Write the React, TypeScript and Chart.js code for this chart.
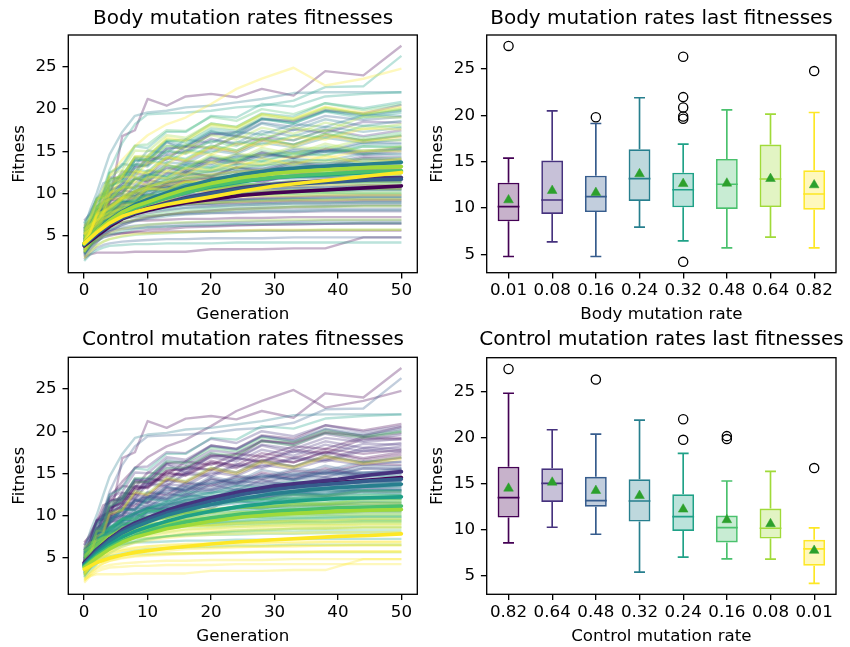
import React, { useEffect, useRef } from "react";
import { Chart, registerables } from "chart.js";

Chart.register(...registerables);

// ---------------- data ----------------
const VIRIDIS = ["#440154", "#46327e", "#365c8d", "#277f8e", "#1fa187", "#4ac16d", "#a0da39", "#fde725"];
const BODY_RATES = ["0.01", "0.08", "0.16", "0.24", "0.32", "0.48", "0.64", "0.82"];
const CTRL_RATES = ["0.82", "0.64", "0.48", "0.32", "0.24", "0.16", "0.08", "0.01"];
const GEN_TICKS = [0, 10, 20, 30, 40, 50];
const FIT_TICKS = [5, 10, 15, 20, 25];

// sampled generations of each run
const RUN_GENS = [0, 1, 2, 3, 4, 6, 8, 10, 13, 16, 20, 24, 28, 33, 38, 44, 50];
// body-rate index and control-rate index of each run
const RUN_BODY = [
  0, 0, 0, 0, 0, 0, 0, 0, 0, 0,
  1, 1, 1, 1, 1, 1, 1, 1, 1, 1,
  2, 2, 2, 2, 2, 2, 2, 2, 2, 2,
  3, 3, 3, 3, 3, 3, 3, 3, 3, 3,
  4, 4, 4, 4, 4, 4, 4, 4, 4, 4, 4, 4,
  5, 5, 5, 5, 5, 5, 5, 5, 5, 5,
  6, 6, 6, 6, 6, 6, 6, 6, 6, 6,
  7, 7, 7, 7, 7, 7, 7, 7, 7, 7,
  0, 0, 0, 0, 0, 1, 1, 1, 1, 1, 2, 2, 2, 2, 2, 3, 3, 3, 3, 3,
  4, 4, 4, 4, 4, 5, 5, 5, 5, 5, 6, 6, 6, 6, 6, 7, 7, 7, 7, 7,
];
const RUN_CTRL = [
  0, 1, 2, 3, 4, 5, 6, 7, 1, 7,
  0, 1, 2, 3, 4, 5, 6, 7, 0, 3,
  0, 1, 2, 3, 4, 5, 6, 7, 2, 5,
  0, 1, 2, 3, 4, 5, 6, 7, 1, 6,
  2, 4, 0, 5, 1, 3, 6, 7, 4, 5, 3, 6,
  0, 1, 2, 3, 4, 5, 6, 7, 0, 7,
  0, 1, 2, 3, 4, 5, 6, 7, 1, 5,
  0, 1, 2, 3, 4, 5, 6, 7, 7, 3,
  2, 0, 4, 6, 3, 1, 2, 5, 6, 4, 0, 3, 6, 7, 4, 0, 2, 4, 7, 5,
  1, 2, 4, 6, 7, 1, 2, 3, 5, 6, 0, 2, 3, 4, 6, 1, 2, 4, 5, 6,
];
const RUN_FITNESS = [
  // body 0.01
  [3.5, 4.5, 5.5, 7.0, 9.0, 16.8, 17.5, 21.2, 20.4, 21.5, 21.8, 21.4, 22.4, 21.6, 24.5, 24.0, 27.5],
  [4.2, 5.0, 6.4, 6.8, 8.1, 8.4, 10.2, 9.6, 11.3, 11.5, 10.8, 12.4, 12.0, 12.9, 12.3, 13.2, 13.0],
  [5.6, 6.2, 7.3, 7.4, 8.6, 9.1, 8.8, 10.6, 10.9, 10.2, 11.7, 11.8, 11.3, 12.4, 12.1, 12.8, 12.5],
  [3.0, 3.8, 4.6, 5.4, 6.0, 7.2, 7.9, 8.3, 8.9, 9.2, 9.6, 9.9, 10.1, 10.3, 10.4, 10.6, 10.6],
  [4.8, 5.4, 5.9, 6.6, 7.1, 7.6, 8.0, 8.4, 8.6, 9.0, 9.1, 9.3, 9.5, 9.6, 9.7, 9.8, 9.8],
  [2.6, 3.4, 4.2, 5.0, 5.5, 6.3, 6.8, 7.1, 7.5, 7.8, 8.0, 8.2, 8.3, 8.4, 8.5, 8.6, 8.6],
  [6.2, 6.8, 7.0, 7.4, 7.5, 7.9, 8.1, 8.3, 8.5, 8.7, 8.8, 8.9, 9.0, 9.1, 9.1, 9.2, 9.2],
  [2.4, 2.8, 3.0, 3.0, 3.0, 3.0, 3.1, 3.1, 3.1, 3.1, 3.4, 3.4, 3.4, 3.5, 3.5, 4.8, 4.8],
  [3.8, 4.9, 6.8, 7.6, 9.2, 10.0, 11.8, 11.4, 13.1, 12.6, 14.2, 13.7, 14.9, 14.2, 15.3, 14.9, 15.4],
  [3.2, 3.9, 4.4, 4.8, 5.0, 5.3, 5.5, 5.7, 5.8, 6.0, 6.1, 6.2, 6.3, 6.4, 6.4, 6.5, 6.5],
  // body 0.08
  [4.5, 5.8, 7.9, 8.3, 10.4, 11.0, 13.1, 13.4, 15.3, 15.5, 17.0, 17.3, 18.8, 18.6, 19.9, 19.5, 20.5],
  [5.2, 6.3, 8.1, 8.2, 10.0, 10.5, 12.4, 12.1, 14.2, 13.8, 15.4, 14.9, 16.3, 15.8, 16.9, 16.3, 16.8],
  [3.9, 5.0, 6.6, 7.2, 8.5, 9.3, 10.9, 10.8, 12.4, 12.4, 13.9, 13.5, 14.6, 14.3, 15.2, 14.7, 15.1],
  [4.6, 5.4, 6.0, 6.9, 7.4, 8.2, 8.9, 9.3, 9.8, 10.2, 10.5, 10.8, 11.0, 11.1, 11.3, 11.4, 11.4],
  [2.9, 3.8, 4.9, 5.7, 6.4, 7.4, 8.0, 8.5, 9.0, 9.4, 9.7, 10.0, 10.1, 10.3, 10.4, 10.5, 10.5],
  [5.5, 6.0, 6.4, 6.9, 7.2, 7.7, 8.1, 8.4, 8.7, 8.9, 9.1, 9.2, 9.3, 9.3, 9.4, 9.4, 9.4],
  [3.6, 4.4, 5.2, 5.8, 6.3, 7.0, 7.4, 7.7, 8.0, 8.3, 8.5, 8.6, 8.7, 8.8, 8.8, 8.9, 8.9],
  [4.0, 4.6, 5.0, 5.3, 5.5, 5.8, 5.9, 6.0, 6.1, 6.2, 6.2, 6.3, 6.3, 6.3, 6.4, 6.4, 6.4],
  [6.8, 7.6, 9.4, 10.0, 11.9, 11.8, 14.0, 13.8, 14.6, 15.0, 16.5, 15.8, 16.6, 16.3, 17.6, 16.8, 17.5],
  [3.3, 4.6, 5.8, 6.7, 7.6, 8.8, 9.5, 10.2, 10.9, 11.5, 11.8, 12.1, 12.4, 12.6, 12.8, 12.9, 13.0],
  // body 0.16
  [4.0, 5.5, 7.4, 8.0, 10.1, 11.2, 13.1, 13.5, 15.3, 15.6, 17.2, 16.9, 18.9, 18.5, 19.8, 19.3, 19.8],
  [5.8, 7.0, 9.0, 9.6, 10.9, 11.8, 13.4, 13.7, 16.1, 15.0, 17.1, 16.8, 18.4, 17.9, 19.2, 18.7, 19.1],
  [3.4, 4.8, 6.0, 6.8, 7.6, 8.9, 9.7, 10.5, 11.1, 11.8, 12.2, 12.6, 12.8, 13.1, 13.3, 13.4, 13.5],
  [4.7, 5.6, 6.4, 7.1, 7.8, 8.7, 9.4, 9.9, 10.4, 10.9, 11.2, 11.4, 11.6, 11.8, 11.9, 12.0, 12.0],
  [2.7, 3.9, 5.0, 5.9, 6.6, 7.6, 8.3, 8.8, 9.3, 9.8, 10.1, 10.4, 10.6, 10.8, 10.9, 11.0, 11.0],
  [5.0, 5.7, 6.2, 6.7, 7.1, 7.7, 8.1, 8.4, 8.7, 9.0, 9.2, 9.3, 9.4, 9.5, 9.6, 9.6, 9.6],
  [3.7, 4.6, 5.4, 6.1, 6.7, 7.5, 8.1, 8.6, 9.0, 9.4, 9.7, 9.9, 10.1, 10.2, 10.3, 10.4, 10.4],
  [2.2, 3.0, 3.6, 3.9, 4.1, 4.3, 4.4, 4.5, 4.6, 4.6, 4.7, 4.7, 4.7, 4.8, 4.8, 4.8, 4.8],
  [4.4, 5.8, 7.7, 7.9, 9.8, 10.1, 11.7, 11.8, 13.4, 12.9, 14.3, 13.8, 14.8, 14.2, 15.0, 14.6, 14.8],
  [3.1, 4.0, 4.8, 5.4, 5.9, 6.5, 6.9, 7.2, 7.5, 7.7, 7.9, 8.0, 8.1, 8.1, 8.2, 8.2, 8.2],
  // body 0.24
  [4.9, 6.4, 8.5, 8.9, 11.0, 11.5, 13.4, 13.2, 15.0, 14.8, 16.3, 16.0, 17.4, 16.8, 17.9, 17.3, 17.8],
  [3.8, 5.2, 7.2, 7.7, 9.6, 10.1, 12.0, 12.0, 13.7, 13.5, 15.1, 14.7, 16.0, 15.5, 16.6, 16.0, 16.4],
  [5.5, 6.7, 7.8, 8.9, 9.6, 10.8, 11.7, 12.2, 12.9, 13.4, 13.9, 14.3, 14.6, 14.9, 15.0, 15.1, 15.2],
  [5.8, 8.2, 10.1, 12.4, 14.6, 17.3, 19.2, 19.6, 19.8, 20.2, 20.4, 20.8, 21.2, 21.9, 22.0, 22.0, 22.0],
  [4.2, 5.4, 6.6, 7.6, 8.4, 9.5, 10.3, 10.9, 11.6, 12.1, 12.5, 12.8, 13.0, 13.2, 13.3, 13.4, 13.5],
  [3.6, 4.8, 5.9, 6.8, 7.6, 8.6, 9.4, 9.9, 10.5, 11.0, 11.4, 11.7, 11.9, 12.1, 12.3, 12.4, 12.4],
  [5.1, 5.8, 6.5, 7.1, 7.6, 8.3, 8.8, 9.2, 9.6, 9.9, 10.2, 10.4, 10.5, 10.6, 10.7, 10.8, 10.8],
  [3.0, 3.9, 4.6, 5.2, 5.7, 6.3, 6.7, 7.0, 7.3, 7.5, 7.7, 7.8, 7.9, 7.9, 8.0, 8.0, 8.0],
  [4.6, 6.1, 8.4, 9.1, 11.3, 12.0, 14.3, 14.0, 16.1, 15.6, 17.4, 16.7, 18.3, 17.5, 18.8, 18.0, 18.6],
  [3.9, 5.0, 6.0, 6.8, 7.5, 8.4, 9.1, 9.6, 10.1, 10.5, 10.8, 11.0, 11.2, 11.4, 11.5, 11.6, 11.6],
  // body 0.32
  [4.5, 6.0, 8.2, 10.4, 12.8, 16.0, 18.2, 19.4, 19.5, 19.6, 19.8, 20.2, 20.4, 21.0, 22.6, 22.7, 26.3],
  [5.0, 6.6, 9.0, 9.8, 12.4, 13.2, 15.6, 15.4, 17.3, 17.3, 19.2, 19.0, 20.6, 20.3, 21.5, 21.8, 22.0],
  [3.9, 5.6, 7.9, 8.6, 10.8, 11.6, 13.9, 14.1, 16.2, 16.4, 18.3, 17.9, 19.5, 19.1, 20.7, 20.1, 20.85],
  [4.3, 5.9, 8.1, 8.6, 11.1, 11.8, 13.9, 14.0, 15.6, 15.7, 17.4, 17.1, 18.8, 18.3, 19.8, 19.2, 19.9],
  [6.4, 7.5, 9.4, 9.5, 11.6, 12.1, 14.2, 14.4, 16.3, 16.0, 17.7, 17.4, 18.9, 18.3, 19.7, 18.9, 19.6],
  [3.5, 4.8, 6.1, 7.1, 8.0, 9.2, 10.1, 10.8, 11.6, 12.2, 12.7, 13.0, 13.3, 13.5, 13.6, 13.7, 13.8],
  [4.4, 5.2, 5.9, 6.5, 7.0, 7.7, 8.2, 8.6, 9.0, 9.3, 9.6, 9.8, 9.9, 10.0, 10.1, 10.1, 10.1],
  [2.0, 2.8, 3.3, 3.6, 3.8, 3.9, 4.0, 4.0, 4.1, 4.1, 4.1, 4.2, 4.2, 4.2, 4.2, 4.2, 4.2],
  [5.3, 6.1, 7.0, 7.7, 8.3, 9.2, 9.9, 10.3, 10.8, 11.2, 11.5, 11.7, 11.8, 11.9, 12.0, 12.0, 12.0],
  [2.9, 3.7, 4.3, 4.8, 5.1, 5.5, 5.8, 6.0, 6.1, 6.2, 6.3, 6.4, 6.4, 6.5, 6.5, 6.5, 6.5],
  [3.7, 4.8, 5.9, 6.7, 7.4, 8.3, 9.0, 9.5, 10.0, 10.4, 10.7, 10.9, 11.0, 11.1, 11.2, 11.2, 11.2],
  [4.9, 6.2, 8.1, 8.2, 10.3, 10.7, 12.9, 12.6, 14.5, 14.1, 15.7, 15.1, 16.5, 15.8, 17.1, 16.3, 16.9],
  // body 0.48
  [4.1, 5.5, 7.4, 7.5, 9.5, 9.8, 11.8, 11.5, 13.3, 12.9, 14.4, 13.8, 15.1, 14.4, 15.6, 14.7, 15.3],
  [5.6, 7.2, 9.5, 10.2, 12.5, 13.4, 15.7, 15.8, 17.5, 17.4, 19.1, 18.6, 20.0, 19.4, 20.7, 19.9, 20.6],
  [3.6, 5.0, 6.3, 7.4, 8.3, 9.6, 10.5, 11.1, 11.9, 12.5, 13.0, 13.4, 13.7, 13.9, 14.0, 14.1, 14.2],
  [4.8, 5.9, 6.9, 7.8, 8.5, 9.5, 10.2, 10.7, 11.3, 11.8, 12.2, 12.5, 12.7, 12.8, 12.9, 13.0, 13.0],
  [3.1, 4.4, 5.6, 6.6, 7.4, 8.5, 9.3, 9.8, 10.4, 10.9, 11.3, 11.6, 11.8, 12.0, 12.1, 12.2, 12.2],
  [5.9, 6.5, 7.0, 7.4, 7.8, 8.3, 8.7, 8.9, 9.2, 9.4, 9.6, 9.7, 9.8, 9.8, 9.9, 9.9, 9.9],
  [3.3, 4.4, 5.5, 6.4, 7.1, 8.1, 8.8, 9.3, 9.8, 10.2, 10.6, 10.9, 11.0, 11.2, 11.3, 11.4, 11.4],
  [2.5, 3.3, 3.9, 4.3, 4.6, 4.9, 5.1, 5.2, 5.3, 5.4, 5.5, 5.5, 5.6, 5.6, 5.7, 5.7, 5.7],
  [4.7, 6.3, 8.4, 8.8, 10.9, 11.4, 13.5, 13.3, 15.1, 14.7, 16.2, 15.6, 17.0, 16.3, 17.5, 16.6, 17.2],
  [4.3, 4.9, 5.5, 6.0, 6.4, 6.9, 7.3, 7.5, 7.8, 8.0, 8.2, 8.3, 8.4, 8.5, 8.5, 8.6, 8.6],
  // body 0.64
  [3.9, 5.5, 7.5, 7.9, 10.0, 10.5, 12.6, 12.4, 14.3, 14.0, 15.6, 15.1, 16.5, 15.8, 17.1, 16.3, 16.9],
  [5.4, 7.1, 9.3, 9.7, 12.1, 12.8, 15.1, 15.0, 16.9, 16.6, 18.3, 17.9, 19.4, 18.8, 20.2, 19.4, 20.1],
  [4.6, 5.9, 7.7, 7.8, 9.7, 10.0, 11.9, 11.6, 13.4, 13.0, 14.6, 14.0, 15.4, 14.7, 15.9, 15.0, 15.6],
  [3.4, 4.8, 6.1, 7.2, 8.0, 9.3, 10.2, 10.8, 11.6, 12.2, 12.7, 13.1, 13.4, 13.7, 13.8, 13.9, 14.0],
  [5.1, 6.1, 7.1, 7.9, 8.6, 9.6, 10.3, 10.8, 11.3, 11.7, 12.0, 12.2, 12.4, 12.5, 12.5, 12.6, 12.6],
  [3.0, 4.1, 5.1, 5.9, 6.6, 7.5, 8.1, 8.5, 8.9, 9.3, 9.6, 9.8, 9.9, 10.0, 10.1, 10.1, 10.1],
  [4.2, 5.1, 6.0, 6.8, 7.4, 8.3, 8.9, 9.4, 9.9, 10.3, 10.6, 10.9, 11.0, 11.1, 11.2, 11.3, 11.3],
  [3.2, 3.9, 4.5, 5.0, 5.3, 5.8, 6.1, 6.3, 6.5, 6.6, 6.7, 6.8, 6.8, 6.9, 6.9, 6.9, 6.9],
  [6.1, 7.4, 9.4, 9.6, 11.7, 12.1, 14.2, 13.9, 15.7, 15.3, 16.9, 16.4, 17.8, 17.1, 18.4, 17.6, 18.2],
  [4.4, 6.0, 8.3, 8.9, 11.4, 12.2, 14.4, 14.5, 16.4, 16.2, 18.0, 17.6, 19.2, 18.7, 20.1, 19.4, 20.0],
  // body 0.82
  [5.2, 7.0, 8.9, 10.6, 12.1, 14.0, 15.6, 16.9, 18.2, 19.0, 20.6, 22.4, 23.6, 24.9, 22.8, 23.6, 24.8],
  [4.3, 5.6, 7.4, 7.4, 9.3, 9.5, 11.4, 11.0, 12.7, 12.2, 13.7, 13.0, 14.2, 13.4, 14.5, 13.6, 14.1],
  [3.7, 5.4, 7.8, 8.5, 11.0, 11.9, 14.4, 14.3, 16.6, 16.3, 18.2, 17.8, 19.4, 18.9, 20.3, 19.6, 20.3],
  [4.9, 5.9, 6.9, 7.7, 8.4, 9.3, 10.0, 10.5, 11.0, 11.4, 11.7, 11.9, 12.0, 12.1, 12.2, 12.2, 12.2],
  [3.1, 4.3, 5.4, 6.3, 7.0, 8.0, 8.7, 9.2, 9.7, 10.1, 10.4, 10.6, 10.8, 10.9, 11.0, 11.0, 11.0],
  [5.7, 6.3, 6.8, 7.3, 7.7, 8.2, 8.6, 8.8, 9.1, 9.3, 9.5, 9.6, 9.7, 9.7, 9.8, 9.8, 9.8],
  [3.5, 4.5, 5.4, 6.2, 6.8, 7.7, 8.3, 8.8, 9.2, 9.6, 9.9, 10.1, 10.3, 10.4, 10.5, 10.6, 10.6],
  [2.3, 3.1, 3.8, 4.3, 4.6, 5.0, 5.2, 5.3, 5.4, 5.5, 5.6, 5.6, 5.7, 5.7, 5.7, 5.7, 5.7],
  [4.0, 5.5, 7.5, 7.9, 10.1, 10.6, 12.7, 12.4, 14.3, 13.9, 15.5, 14.9, 16.3, 15.6, 16.9, 16.1, 16.7],
  [4.5, 5.6, 6.7, 7.6, 8.4, 9.5, 10.3, 10.8, 11.4, 11.9, 12.3, 12.6, 12.8, 12.9, 13.0, 13.0, 13.0],
  // additional runs, bodies 0.01 .. 0.24
  [4.6, 5.8, 6.9, 8.6, 8.9, 10.4, 10.1, 11.6, 11.2, 12.6, 12.0, 13.1, 12.6, 13.7, 13.2, 14.2, 14.0],
  [5.9, 6.6, 7.9, 8.1, 9.2, 9.4, 10.3, 10.9, 10.6, 11.5, 11.9, 11.6, 12.2, 12.5, 12.3, 12.9, 12.8],
  [3.4, 4.5, 5.6, 6.0, 6.3, 6.6, 6.8, 6.8, 6.9, 7.0, 7.0, 7.1, 7.1, 7.2, 7.2, 7.2, 7.2],
  [3.9, 4.4, 4.8, 5.1, 5.2, 5.3, 5.4, 5.4, 5.5, 5.5, 5.5, 5.6, 5.6, 5.6, 5.6, 5.6, 5.6],
  [4.1, 5.2, 6.1, 7.3, 7.6, 8.8, 8.9, 9.8, 9.7, 10.4, 10.3, 10.9, 10.8, 11.3, 11.2, 11.6, 11.5],
  [5.0, 6.6, 7.9, 9.9, 10.4, 12.6, 12.5, 14.3, 14.0, 15.6, 15.4, 16.8, 16.3, 17.6, 17.2, 18.5, 18.4],
  [4.3, 5.5, 6.6, 8.1, 8.4, 9.9, 9.8, 11.2, 11.0, 12.3, 12.1, 13.1, 12.9, 13.8, 13.5, 14.4, 14.3],
  [4.4, 5.3, 6.0, 6.4, 6.7, 7.0, 7.2, 7.3, 7.5, 7.6, 7.7, 7.7, 7.8, 7.8, 7.9, 7.9, 7.9],
  [2.8, 4.0, 5.3, 6.6, 7.0, 8.1, 8.3, 9.2, 9.1, 9.9, 9.8, 10.4, 10.3, 10.8, 10.7, 11.0, 10.9],
  [5.7, 6.5, 7.4, 8.4, 8.6, 9.6, 9.7, 10.5, 10.4, 11.1, 11.0, 11.6, 11.5, 12.0, 11.9, 12.5, 12.4],
  [4.9, 6.1, 7.5, 9.2, 9.5, 11.3, 11.1, 12.7, 12.4, 13.8, 13.5, 14.6, 14.3, 15.3, 15.0, 16.1, 16.0],
  [3.6, 4.9, 6.1, 7.6, 8.0, 9.5, 9.5, 10.9, 10.7, 11.9, 11.8, 12.7, 12.6, 13.4, 13.2, 14.0, 13.9],
  [5.3, 5.9, 6.5, 7.0, 7.3, 7.7, 8.0, 8.2, 8.4, 8.6, 8.7, 8.8, 8.9, 9.0, 9.0, 9.1, 9.1],
  [3.5, 4.2, 4.9, 5.4, 5.7, 6.0, 6.2, 6.3, 6.4, 6.5, 6.6, 6.6, 6.7, 6.7, 6.8, 6.8, 6.8],
  [4.2, 5.1, 6.0, 6.9, 7.2, 8.1, 8.3, 9.0, 9.1, 9.6, 9.7, 10.1, 10.2, 10.5, 10.5, 10.7, 10.7],
  [6.5, 7.9, 9.3, 11.2, 11.5, 13.5, 13.3, 15.1, 14.8, 16.4, 16.0, 17.3, 17.0, 18.2, 17.9, 19.3, 19.2],
  [4.0, 5.4, 6.8, 8.6, 9.0, 10.8, 10.7, 12.3, 12.1, 13.5, 13.3, 14.4, 14.2, 15.1, 14.9, 15.9, 15.8],
  [5.4, 6.5, 7.6, 9.0, 9.3, 10.7, 10.6, 11.9, 11.7, 12.8, 12.6, 13.5, 13.3, 14.1, 13.9, 14.7, 14.6],
  [2.9, 3.9, 4.9, 5.9, 6.3, 7.2, 7.5, 8.1, 8.3, 8.7, 8.8, 9.1, 9.2, 9.4, 9.4, 9.6, 9.6],
  [4.5, 5.5, 6.5, 7.6, 7.9, 9.0, 9.1, 9.9, 9.9, 10.6, 10.6, 11.1, 11.1, 11.5, 11.5, 11.9, 11.9],
  // additional runs, bodies 0.32 .. 0.82
  [4.8, 6.0, 7.3, 8.9, 9.3, 10.9, 10.8, 12.3, 12.0, 13.3, 13.1, 14.1, 13.9, 14.8, 14.6, 15.6, 15.5],
  [3.3, 4.6, 5.8, 7.2, 7.6, 9.0, 9.0, 10.3, 10.2, 11.3, 11.2, 12.0, 11.9, 12.6, 12.5, 13.3, 13.2],
  [5.6, 6.3, 7.0, 7.9, 8.1, 9.0, 9.1, 9.8, 9.8, 10.4, 10.4, 10.9, 10.9, 11.3, 11.3, 11.6, 11.6],
  [3.9, 4.9, 5.8, 6.8, 7.1, 8.0, 8.2, 8.9, 9.0, 9.5, 9.6, 10.0, 10.1, 10.4, 10.4, 10.6, 10.6],
  [4.6, 5.3, 5.9, 6.5, 6.8, 7.3, 7.6, 7.9, 8.1, 8.3, 8.4, 8.6, 8.7, 8.8, 8.8, 8.9, 8.9],
  [5.3, 6.7, 8.1, 10.0, 10.3, 12.3, 12.1, 13.9, 13.6, 15.1, 14.8, 16.1, 15.8, 16.9, 16.6, 18.0, 17.9],
  [4.4, 5.7, 7.0, 8.7, 9.1, 10.7, 10.6, 12.1, 11.9, 13.2, 13.0, 14.0, 13.8, 14.7, 14.5, 15.6, 15.5],
  [3.2, 4.3, 5.3, 6.4, 6.8, 7.7, 7.9, 8.6, 8.7, 9.3, 9.4, 9.8, 9.9, 10.2, 10.2, 10.4, 10.4],
  [4.9, 5.9, 6.9, 8.1, 8.4, 9.6, 9.6, 10.6, 10.5, 11.3, 11.3, 11.9, 11.9, 12.4, 12.3, 12.9, 12.8],
  [5.8, 6.3, 6.8, 7.3, 7.5, 7.9, 8.2, 8.4, 8.6, 8.8, 8.9, 9.1, 9.2, 9.3, 9.3, 9.4, 9.4],
  [4.7, 6.3, 7.9, 10.0, 10.4, 12.7, 12.5, 14.4, 14.1, 15.8, 15.4, 16.8, 16.4, 17.8, 17.4, 19.1, 19.0],
  [5.9, 7.0, 8.2, 9.7, 10.0, 11.5, 11.4, 12.8, 12.6, 13.9, 13.7, 14.7, 14.5, 15.5, 15.3, 16.4, 16.3],
  [3.8, 5.0, 6.2, 7.6, 7.9, 9.3, 9.3, 10.5, 10.4, 11.4, 11.3, 12.1, 12.0, 12.7, 12.6, 13.4, 13.3],
  [4.3, 5.3, 6.3, 7.4, 7.7, 8.8, 8.9, 9.8, 9.8, 10.5, 10.5, 11.1, 11.1, 11.5, 11.5, 11.9, 11.9],
  [3.1, 4.0, 4.8, 5.6, 5.9, 6.6, 6.9, 7.3, 7.5, 7.8, 7.9, 8.1, 8.2, 8.4, 8.4, 8.5, 8.5],
  [3.9, 5.6, 7.3, 9.4, 9.8, 12.0, 11.9, 13.7, 13.4, 14.9, 14.6, 15.9, 15.6, 16.7, 16.4, 17.7, 17.6],
  [5.1, 6.3, 7.5, 9.0, 9.3, 10.8, 10.7, 12.0, 11.8, 13.0, 12.8, 13.7, 13.5, 14.4, 14.2, 15.1, 15.0],
  [4.4, 5.5, 6.6, 7.9, 8.2, 9.5, 9.5, 10.6, 10.5, 11.4, 11.3, 12.0, 11.9, 12.5, 12.4, 13.0, 12.9],
  [5.2, 5.8, 6.4, 7.0, 7.3, 7.8, 8.1, 8.4, 8.6, 8.8, 8.9, 9.0, 9.1, 9.2, 9.2, 9.3, 9.3],
  [3.4, 4.6, 5.7, 7.0, 7.4, 8.6, 8.7, 9.6, 9.6, 10.3, 10.3, 10.9, 10.9, 11.4, 11.3, 11.9, 11.8],
];

// mean curves per rate (thick lines)
const MEAN_GENS = [0, 2, 4, 6, 8, 10, 13, 16, 20, 25, 30, 35, 40, 45, 50];
const BODY_MEAN_CURVES = [
  [3.8, 5.0, 6.1, 7.0, 7.6, 8.0, 8.5, 8.9, 9.3, 9.8, 10.1, 10.3, 10.5, 10.7, 10.9],
  [4.0, 5.3, 6.4, 7.2, 7.8, 8.3, 8.9, 9.5, 10.1, 10.7, 11.1, 11.4, 11.6, 11.8, 11.9],
  [3.9, 5.2, 6.3, 7.1, 7.7, 8.2, 8.8, 9.4, 10.0, 10.6, 11.0, 11.2, 11.4, 11.6, 11.7],
  [4.0, 5.6, 6.9, 7.9, 8.7, 9.3, 10.1, 10.8, 11.6, 12.3, 12.8, 13.1, 13.3, 13.5, 13.7],
  [4.1, 5.5, 6.7, 7.6, 8.3, 8.8, 9.5, 10.1, 10.8, 11.4, 11.9, 12.1, 12.3, 12.5, 12.6],
  [4.0, 5.5, 6.7, 7.6, 8.3, 8.8, 9.5, 10.1, 10.9, 11.5, 11.9, 12.2, 12.4, 12.6, 12.7],
  [4.1, 5.6, 6.8, 7.8, 8.5, 9.0, 9.8, 10.5, 11.2, 11.9, 12.4, 12.7, 12.9, 13.1, 13.2],
  [4.1, 5.4, 6.5, 7.3, 7.8, 8.2, 8.7, 9.1, 9.6, 10.3, 10.9, 11.3, 11.7, 12.1, 12.5],
];
const CTRL_MEAN_CURVES = [
  [4.4, 5.9, 7.2, 8.2, 9.0, 9.6, 10.4, 11.0, 11.8, 12.6, 13.2, 13.6, 13.9, 14.2, 14.5],
  [4.3, 5.9, 7.2, 8.3, 9.1, 9.7, 10.6, 11.3, 12.1, 12.9, 13.5, 13.9, 14.3, 14.8, 15.2],
  [4.2, 5.8, 7.1, 8.1, 8.9, 9.5, 10.3, 10.9, 11.7, 12.5, 13.1, 13.5, 13.8, 14.1, 14.3],
  [4.1, 5.6, 6.9, 7.9, 8.6, 9.2, 10.0, 10.6, 11.3, 12.0, 12.6, 13.0, 13.3, 13.5, 13.7],
  [4.0, 5.4, 6.5, 7.4, 8.1, 8.6, 9.3, 9.9, 10.5, 11.1, 11.5, 11.8, 12.0, 12.1, 12.2],
  [3.9, 5.2, 6.2, 7.0, 7.6, 8.1, 8.7, 9.2, 9.7, 10.2, 10.5, 10.7, 10.9, 11.0, 11.1],
  [3.8, 5.0, 6.0, 6.8, 7.4, 7.8, 8.4, 8.8, 9.3, 9.8, 10.1, 10.3, 10.5, 10.6, 10.7],
  [3.6, 4.4, 4.9, 5.3, 5.6, 5.8, 6.1, 6.3, 6.6, 6.9, 7.1, 7.3, 7.5, 7.6, 7.8],
];

// box statistics of last fitnesses
const BODY_LO = [4.78, 6.36, 4.78, 7.95, 6.47, 5.71, 6.87, 5.71];
const BODY_Q1 = [8.57, 9.36, 9.57, 10.76, 10.08, 9.9, 10.11, 9.82];
const BODY_MED = [10.15, 10.87, 11.23, 13.17, 11.98, 12.57, 13.14, 11.52];
const BODY_Q3 = [12.74, 15.12, 13.5, 16.35, 13.82, 15.3, 16.85, 14.08];
const BODY_HI = [15.38, 20.49, 19.12, 21.9, 16.89, 20.6, 20.13, 20.31];
const BODY_AVG = [10.87, 11.88, 11.66, 13.68, 12.63, 12.67, 13.17, 12.49];
const BODY_OUTLIERS = [[27.49], [], [19.8], [], [26.33, 21.97, 20.85, 19.88, 19.63, 4.2], [], [], [24.78]];

const CTRL_LO = [8.6, 10.3, 9.54, 5.43, 7.05, 6.87, 6.84, 4.21];
const CTRL_Q1 = [11.34, 13.04, 12.53, 10.91, 9.9, 8.64, 9.07, 6.12];
const CTRL_MED = [13.5, 15.05, 13.18, 13.14, 11.45, 10.26, 10.19, 7.95];
const CTRL_Q3 = [16.86, 16.68, 15.77, 15.49, 13.86, 11.56, 12.32, 8.93];
const CTRL_HI = [24.82, 20.86, 20.39, 21.9, 18.3, 15.31, 16.35, 10.23];
const CTRL_AVG = [14.51, 15.16, 14.26, 13.72, 12.24, 11.09, 10.66, 7.77];
const CTRL_OUTLIERS = [[27.45], [], [26.3], [], [22.0, 19.77], [20.17, 19.85], [], [16.71]];

// ---------------- helpers ----------------
const FONT = "'DejaVu Sans', sans-serif";
const TICK_SIZE = 16.7;
const TITLE_SIZE = 20;
const AXIS_LW = 1.33;

function rgba(hex: string, a: number) {
  const r = parseInt(hex.slice(1, 3), 16);
  const g = parseInt(hex.slice(3, 5), 16);
  const b = parseInt(hex.slice(5, 7), 16);
  return `rgba(${r},${g},${b},${a})`;
}

type Panel = {
  left: number; top: number; W: number; H: number;
  cl: number; cr: number; ct: number; cb: number;
  titleMid: number; yTitleMid: number; xTitleMid: number;
};

const PANELS: Record<string, Panel> = {
  tl: { left: 0, top: 0, W: 486, H: 330, cl: 68.3, cr: 417.3, ct: 35, cb: 272.7, titleMid: 19.1, yTitleMid: 19.2, xTitleMid: 314.6 },
  tr: { left: 425, top: 0, W: 473, H: 330, cl: 61.7, cr: 411, ct: 35, cb: 272.7, titleMid: 19.1, yTitleMid: 12.5, xTitleMid: 314.6 },
  bl: { left: 0, top: 320, W: 486, H: 327, cl: 68.3, cr: 417.3, ct: 37.3, cb: 274.3, titleMid: 19.8, yTitleMid: 19.2, xTitleMid: 316.2 },
  br: { left: 425, top: 320, W: 473, H: 327, cl: 61.7, cr: 411, ct: 37.7, cb: 274.3, titleMid: 19.8, yTitleMid: 12.5, xTitleMid: 316.2 },
};

const framePlugin = {
  id: "frame",
  afterDatasetsDraw(chart: any) {
    const { ctx, chartArea } = chart;
    ctx.save();
    ctx.strokeStyle = "#000";
    ctx.lineWidth = AXIS_LW;
    ctx.strokeRect(chartArea.left, chartArea.top, chartArea.right - chartArea.left, chartArea.bottom - chartArea.top);
    ctx.restore();
  },
};

function baseOptions(p: Panel, title: string, xTitle: string, xCfg: any, yCfg: any) {
  const yW = p.cl;
  const rW = p.W - p.cr;
  const xH = p.H - p.cb;
  const lh = TICK_SIZE * 1.2;
  const tlh = TITLE_SIZE * 1.2;
  const tPadTop = p.titleMid - tlh / 2;
  const tPadBottom = p.ct - tlh - tPadTop;
  const grid = {
    display: true, drawOnChartArea: false, drawTicks: true, tickLength: 5.8,
    color: "#000", tickColor: "#000", lineWidth: AXIS_LW, tickWidth: AXIS_LW,
  };
  const tickFont = { family: FONT, size: TICK_SIZE };
  return {
    responsive: false,
    animation: false,
    devicePixelRatio: 1,
    events: [],
    layout: { padding: { left: 0, right: 0, top: 0, bottom: 0 } },
    plugins: {
      legend: { display: false },
      tooltip: { enabled: false },
      title: {
        display: true, text: title, color: "#000", fullSize: true,
        font: { family: FONT, size: TITLE_SIZE, weight: "normal", lineHeight: 1.2 },
        padding: { top: tPadTop, bottom: tPadBottom },
      },
    },
    scales: {
      x: {
        type: "linear", position: "bottom", offset: false, min: xCfg.min, max: xCfg.max,
        afterBuildTicks: (s: any) => { s.ticks = xCfg.ticks.map((v: number) => ({ value: v })); },
        afterFit: (s: any) => { s.height = xH; },
        grid: { ...grid, offset: false },
        border: { display: false },
        ticks: {
          autoSkip: false, maxRotation: 0, minRotation: 0, color: "#000", font: tickFont, padding: 2.4,
          callback: xCfg.callback,
        },
        title: {
          display: true, text: xTitle, color: "#000",
          font: { family: FONT, size: TICK_SIZE, lineHeight: 1.2 },
          padding: { top: 0, bottom: p.H - p.xTitleMid - lh / 2 },
        },
      },
      y: {
        type: "linear", position: "left", min: yCfg.min, max: yCfg.max, beginAtZero: false,
        afterBuildTicks: (s: any) => { s.ticks = FIT_TICKS.map((v) => ({ value: v })); },
        afterFit: (s: any) => { s.width = yW; },
        grid,
        border: { display: false },
        ticks: { autoSkip: false, color: "#000", font: tickFont, padding: 5.8, callback: (v: any) => String(v) },
        title: {
          display: true, text: "Fitness", color: "#000",
          font: { family: FONT, size: TICK_SIZE, lineHeight: 1.2 },
          padding: { top: p.yTitleMid - lh / 2, bottom: 0 },
        },
      },
      yR: {
        type: "linear", position: "right", display: true,
        grid: { display: false }, border: { display: false }, ticks: { display: false },
        title: { display: false },
        afterFit: (s: any) => { s.width = rW; },
      },
    },
  };
}

function lineConfig(p: Panel, title: string, colorIdx: number[], means: number[][]) {
  const datasets: any[] = [];
  for (let c = 7; c >= 0; c--) {
    datasets.push({
      type: "line", xAxisID: "x", yAxisID: "y",
      data: MEAN_GENS.map((g, k) => ({ x: g, y: means[c][k] })),
      borderColor: VIRIDIS[c], borderWidth: 3.6, pointRadius: 0, fill: false, tension: 0,
      borderJoinStyle: "round", borderCapStyle: "round",
    });
  }
  const order = RUN_FITNESS.map((_, i) => i).sort((a, b) => colorIdx[b] - colorIdx[a]);
  for (const i of order) {
    datasets.push({
      type: "line", xAxisID: "x", yAxisID: "y",
      data: RUN_GENS.map((g, k) => ({ x: g, y: RUN_FITNESS[i][k] })),
      borderColor: rgba(VIRIDIS[colorIdx[i]], 0.3), borderWidth: 2.4, pointRadius: 0, fill: false, tension: 0,
      borderJoinStyle: "round",
    });
  }
  return {
    type: "line",
    data: { datasets },
    options: baseOptions(p, title, "Generation", { min: -2.5, max: 52.5, ticks: GEN_TICKS }, { min: 0.62, max: 28.78 }),
    plugins: [framePlugin],
  };
}

function boxConfig(p: Panel, title: string, xTitle: string, rates: string[],
  lo: number[], q1: number[], med: number[], q3: number[], hi: number[], avg: number[], outliers: number[][]) {
  const datasets: any[] = [];
  const outPts: any[] = [];
  outliers.forEach((arr, i) => arr.forEach((v) => outPts.push({ x: i + 1, y: v })));
  datasets.push({
    type: "line", xAxisID: "x", yAxisID: "y", showLine: false, data: outPts,
    pointStyle: "circle", pointRadius: 4.6, pointBackgroundColor: "rgba(0,0,0,0)",
    pointBorderColor: "#000", pointBorderWidth: 1.33,
  });
  datasets.push({
    type: "line", xAxisID: "x", yAxisID: "y", showLine: false,
    data: avg.map((v, i) => ({ x: i + 1, y: v })),
    pointStyle: "triangle", pointRadius: 5.6, pointBackgroundColor: "#2ca02c",
    pointBorderColor: "#2ca02c", pointBorderWidth: 0.5,
  });
  rates.forEach((_, i) => {
    const x = i + 1;
    datasets.push({
      type: "line", xAxisID: "x", yAxisID: "y", spanGaps: false,
      data: [
        { x: x - 0.25, y: med[i] }, { x: x + 0.25, y: med[i] }, { x, y: null },
        { x, y: q3[i] }, { x, y: hi[i] }, { x, y: null },
        { x: x - 0.125, y: hi[i] }, { x: x + 0.125, y: hi[i] }, { x, y: null },
        { x, y: q1[i] }, { x, y: lo[i] }, { x, y: null },
        { x: x - 0.125, y: lo[i] }, { x: x + 0.125, y: lo[i] },
      ],
      borderColor: VIRIDIS[i], borderWidth: 1.67, pointRadius: 0, fill: false, tension: 0,
    });
  });
  datasets.push({
    type: "bar", xAxisID: "x", yAxisID: "y",
    data: rates.map((_, i) => ({ x: i + 1, y: [q1[i], q3[i]] })),
    backgroundColor: VIRIDIS.map((c) => rgba(c, 0.3)),
    borderColor: VIRIDIS,
    borderWidth: 1.67, borderSkipped: false, barPercentage: 0.5, categoryPercentage: 1,
  });
  return {
    type: "bar",
    data: { datasets },
    options: baseOptions(p, title, xTitle,
      { min: 0.5, max: 8.5, ticks: [1, 2, 3, 4, 5, 6, 7, 8], callback: (v: any) => rates[Math.round(v) - 1] ?? "" },
      { min: 3.03, max: 28.67 }),
    plugins: [framePlugin],
  };
}

function ChartCanvas({ panel, build }: { panel: Panel; build: () => any }) {
  const ref = useRef<HTMLCanvasElement | null>(null);
  useEffect(() => {
    if (!ref.current) return;
    const chart = new Chart(ref.current, build());
    return () => chart.destroy();
  }, []);
  return (
    <canvas
      ref={ref}
      width={panel.W}
      height={panel.H}
      style={{ position: "absolute", left: panel.left, top: panel.top, width: panel.W, height: panel.H }}
    />
  );
}

export default function App() {
  Chart.defaults.font.family = FONT;
  Chart.defaults.color = "#000";
  return (
    <div style={{ position: "absolute", left: 0, top: 0, width: 850, height: 647, overflow: "hidden", background: "#fff" }}>
      <ChartCanvas panel={PANELS.tl} build={() => lineConfig(PANELS.tl, "Body mutation rates fitnesses", RUN_BODY, BODY_MEAN_CURVES)} />
      <ChartCanvas panel={PANELS.tr} build={() => boxConfig(PANELS.tr, "Body mutation rates last fitnesses", "Body mutation rate", BODY_RATES,
        BODY_LO, BODY_Q1, BODY_MED, BODY_Q3, BODY_HI, BODY_AVG, BODY_OUTLIERS)} />
      <ChartCanvas panel={PANELS.bl} build={() => lineConfig(PANELS.bl, "Control mutation rates fitnesses", RUN_CTRL, CTRL_MEAN_CURVES)} />
      <ChartCanvas panel={PANELS.br} build={() => boxConfig(PANELS.br, "Control mutation rates last fitnesses", "Control mutation rate", CTRL_RATES,
        CTRL_LO, CTRL_Q1, CTRL_MED, CTRL_Q3, CTRL_HI, CTRL_AVG, CTRL_OUTLIERS)} />
    </div>
  );
}
